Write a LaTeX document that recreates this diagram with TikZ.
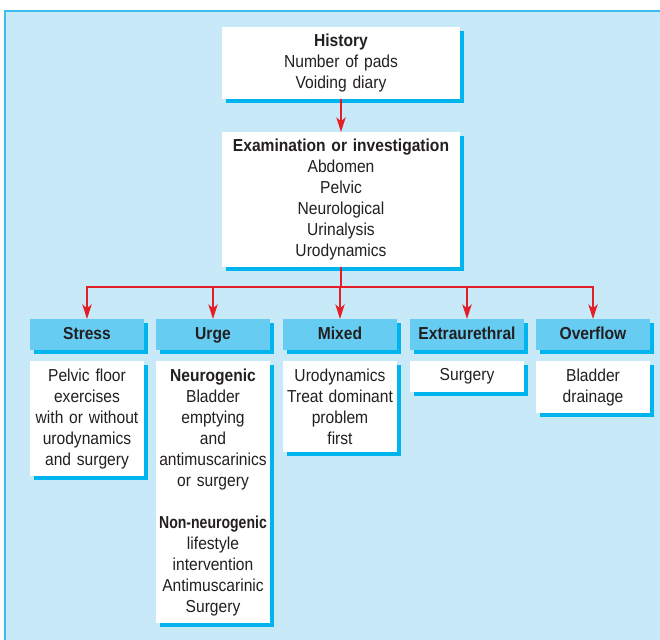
\documentclass[tikz,border=0pt]{standalone}
\usepackage{fontspec}
\setmainfont{Liberation Sans}[FakeStretch=0.9]
\usetikzlibrary{arrows.meta,shadows}
\definecolor{bgblue}{HTML}{C8E9F8}
\definecolor{bgline}{HTML}{3DBDEE}
\definecolor{catblue}{HTML}{66CCF2}
\definecolor{shadecyan}{HTML}{00B4EE}
\definecolor{flowred}{HTML}{E41E26}
\definecolor{inkgray}{HTML}{231F20}
\begin{document}
\begin{tikzpicture}[x=0.75pt,y=-0.75pt,
  every node/.style={text=inkgray,font=\fontsize{13}{15.75}\selectfont,align=center},
  shade/.style={drop shadow={shadow xshift=3pt,shadow yshift=-3pt,fill=shadecyan,opacity=1}},
  topbox/.style={shade,fill=white,anchor=north,inner xsep=3pt,inner ysep=5pt,minimum width=178.5pt,text width=172.5pt},
  catbox/.style={shade,fill=catblue,anchor=north,inner sep=0pt,minimum width=85.5pt,minimum height=23.25pt,text height=9.6pt,text depth=2.6pt,font=\fontsize{13}{15.75}\selectfont\bfseries},
  colbox/.style={shade,fill=white,anchor=north,inner xsep=2pt,inner ysep=5.5pt,minimum width=85.5pt,text width=81.5pt},
  flow/.style={draw=flowred,line width=1.2pt,-{Stealth[length=11pt,width=7pt,inset=3pt]}}]
\useasboundingbox (0,0) rectangle (660,639);
\draw[fill=bgblue,draw=bgline,line width=0.8pt] (5,11) rectangle (672,652);
\node[topbox] (history) at (341,27) {\textbf{History}\\Number of pads\\Voiding diary};
\node[topbox] (exam) at (341,132) {\textbf{Examination or investigation}\\Abdomen\\Pelvic\\Neurological\\Urinalysis\\Urodynamics};
\node[catbox] (stress) at (87,319) {Stress};
\node[catbox] (urge) at (213,319) {Urge};
\node[catbox] (mixed) at (340,319) {Mixed};
\node[catbox] (extra) at (467,319) {Extraurethral};
\node[catbox] (overflow) at (593,319) {Overflow};
\node[colbox] (stresstx) at (87,361) {Pelvic floor\\exercises\\with or without\\urodynamics\\and surgery};
\node[colbox] (urgetx) at (213,361) {\textbf{Neurogenic}\\Bladder\\emptying\\and\\antimuscarinics\\or surgery\\[16pt]\scalebox{0.9}[1]{\textbf{Non-neurogenic}}\\lifestyle\\intervention\\Antimuscarinic\\Surgery};
\node[colbox] (mixedtx) at (340,361) {Urodynamics\\Treat dominant\\problem\\first};
\node[colbox] (extratx) at (467,361) {Surgery};
\node[colbox] (overflowtx) at (593,361) {Bladder\\drainage};
\coordinate (bus) at (341,287);
\draw[flow] (history) -- (exam);
\foreach \c in {stress,urge,mixed,extra,overflow}
  \draw[flow] (exam.south) -- (exam.south |- bus) -| (\c.north);
\end{tikzpicture}
\end{document}
